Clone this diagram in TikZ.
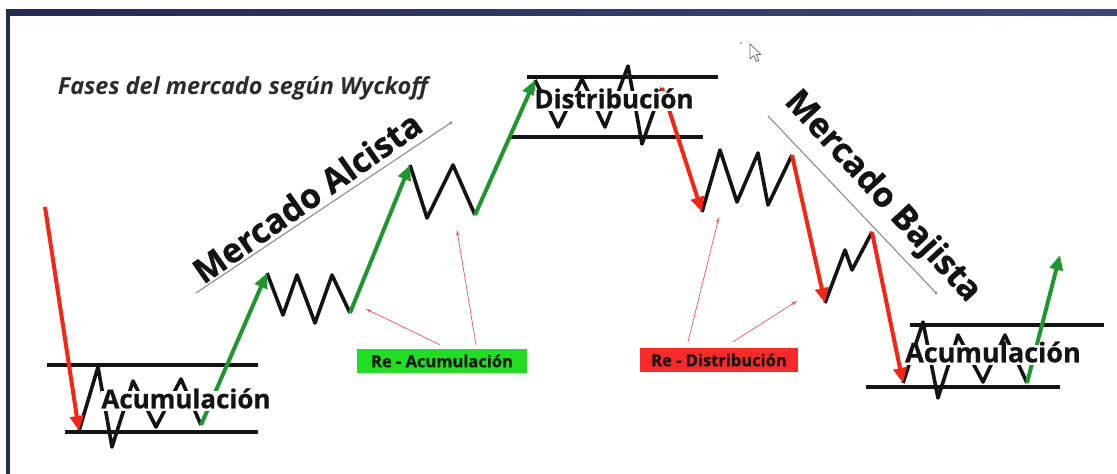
\documentclass[tikz,border=0pt]{standalone}
\usepackage{fontspec}
\setmainfont{Open Sans}[BoldFeatures={FakeBold=0.8}]
\usetikzlibrary{arrows.meta,calc}
\definecolor{bred}{RGB}{245,38,22}
\definecolor{bgreen}{RGB}{32,150,48}
\definecolor{lgreen}{RGB}{32,222,32}
\definecolor{lred}{RGB}{250,42,42}
\definecolor{thinred}{RGB}{228,90,100}
\definecolor{navyA}{RGB}{36,42,84}
\definecolor{navyB}{RGB}{60,72,118}
\definecolor{ink}{RGB}{20,20,20}
\tikzset{
  bar/.style={line width=3.6pt, ink},
  zig/.style={line width=3.6pt, ink, line join=round},
  uparrow/.style={line width=4pt, bgreen, -{Triangle[length=15pt,width=13pt]}},
  downarrow/.style={line width=4pt, bred, -{Triangle[length=15pt,width=13pt]}},
  pointer/.style={thinred, line width=0.7pt, -{Stealth[length=6pt,width=3.5pt]}},
  trend/.style={black!45, line width=1.1pt, -{Circle[length=3pt]}},
  phase/.style={font=\bfseries\fontsize{26}{26}\selectfont, fill=white, inner sep=0pt, text height=17.5pt, text depth=3pt, text=ink},
  tag/.style={font=\bfseries\fontsize{16.5}{16.5}\selectfont, minimum width=170pt, minimum height=24pt, inner sep=0pt, text=ink},
  market/.style={font=\bfseries\fontsize{34}{34}\selectfont, text=ink, inner sep=0pt},
}
\begin{document}
\begin{tikzpicture}[x=1pt,y=-1pt]
\useasboundingbox (0,0) rectangle (1117,474);
\fill[white] (0,0) rectangle (1117,474);
% frame
\shade[left color=navyA, right color=navyB] (6,9) rectangle (1117,15);
\fill[navyA] (6,9) rectangle (9.5,474);
% title
\node[font=\bfseries\itshape\fontsize{23.5}{23.5}\selectfont, text=ink!90, inner sep=0pt] (title) at (243,88) {Fases del mercado según Wyckoff};
% cursor
\coordinate (cur) at (750,44);
\fill[black!50] (741,43) circle (1pt);
\draw[black!60, fill=white, line width=0.7pt, line join=round] (cur) -- ++(0,15) -- ++(3.5,-3.5) -- ++(3,6) -- ++(2.5,-1.2) -- ++(-3,-5.8) -- ++(5,0) -- cycle;
% trend lines
\coordinate (tA1) at (196,293); \coordinate (tA2) at (452,122);
\coordinate (tB1) at (768,116); \coordinate (tB2) at (937,294);
\draw[trend] (tA1) -- (tA2);
\draw[trend] (tB1) -- (tB2);
\node[market, rotate=35] (alc) at (307,197) {Mercado Alcista};
\node[market, rotate=-47.5] (baj) at (882,197) {Mercado Bajista};
% range bars
\coordinate (b1a) at (47,365); \coordinate (b1b) at (258,365);
\coordinate (b1c) at (65,432); \coordinate (b1d) at (258,432);
\coordinate (b2a) at (527,77); \coordinate (b2b) at (718,77);
\coordinate (b2c) at (510,137); \coordinate (b2d) at (703,137);
\coordinate (b3a) at (910,325); \coordinate (b3b) at (1104,325);
\coordinate (b3c) at (866,387); \coordinate (b3d) at (1060,387);
\draw[bar] (b1a) -- (b1b); \draw[bar] (b1c) -- (b1d);
\draw[bar] (b2a) -- (b2b); \draw[bar] (b2c) -- (b2d);
\draw[bar] (b3a) -- (b3b); \draw[bar] (b3c) -- (b3d);
% price path points
\coordinate (s0) at (45,207);
\coordinate (a1) at (79,431);
\coordinate (v3) at (201,425);
\coordinate (g1) at (267,273);
\coordinate (r1) at (350,313);
\coordinate (g2) at (410,165);
\coordinate (r2) at (475,215);
\coordinate (g3) at (535,80);
\coordinate (d0) at (662,88);
\coordinate (e1) at (702,212);
\coordinate (e2) at (792,155);
\coordinate (e3) at (825,303);
\coordinate (e4) at (872,232);
\coordinate (f1) at (903,383);
\coordinate (f2) at (1027,383);
\coordinate (f3) at (1060,255);
% zigzags
\draw[zig] (a1) -- (98,367) -- (112,447) -- (133,381) -- (156,427) -- (181,379) -- (v3);
\draw[zig] (g1) -- (283,315) -- (297,275) -- (315,323) -- (332,275) -- (r1);
\draw[zig] (g2) -- (427,218) -- (453,165) -- (r2);
\draw[zig] (g3) -- (558,127) -- (582,79) -- (605,127) -- (628,66) -- (642,144) -- (d0);
\draw[zig] (e1) -- (720,150) -- (737,202) -- (758,153) -- (768,205) -- (e2);
\draw[zig] (e3) -- (845,250) -- (852,270) -- (e4);
\draw[zig] (f1) -- (923,322) -- (938,398) -- (958,335) -- (983,382) -- (1005,335) -- (f2);
% impulse arrows
\draw[downarrow] (s0) -- (a1);
\draw[uparrow] (v3) -- (g1);
\draw[uparrow] (r1) -- (g2);
\draw[uparrow] (r2) -- (g3);
\draw[downarrow] (d0) -- (e1);
\draw[downarrow] (e2) -- (e3);
\draw[downarrow] (e4) -- (f1);
\draw[uparrow] (f2) -- (f3);
% phase texts
\node[phase] (acc1) at (186,401) {Acumulación};
\node[phase] (dist) at (614,101) {Distribución};
\node[phase, font=\bfseries\fontsize{27}{27}\selectfont] (acc2) at (993,355) {Acumulación};
% tags
\node[tag, fill=lgreen] (reacc) at (442,361) {Re - Acumulación};
\node[tag, fill=lred, minimum width=158pt] (redist) at (719,360) {Re - Distribución};
\coordinate (pA1) at ($(reacc.north)+(-2,-4)$);
\coordinate (pA2) at ($(reacc.north)+(34,-4)$);
\coordinate (pB1) at ($(redist.north)+(-31,-6)$);
\coordinate (pB2) at ($(redist.north)+(14,-6)$);
\coordinate (tA) at (366,309);
\coordinate (tB) at (457,230);
\coordinate (tC) at (719,217);
\coordinate (tD) at (797,301);
\draw[pointer] (pA1) -- (tA);
\draw[pointer] (pA2) -- (tB);
\draw[pointer] (pB1) -- (tC);
\draw[pointer] (pB2) -- (tD);
\end{tikzpicture}
\end{document}
